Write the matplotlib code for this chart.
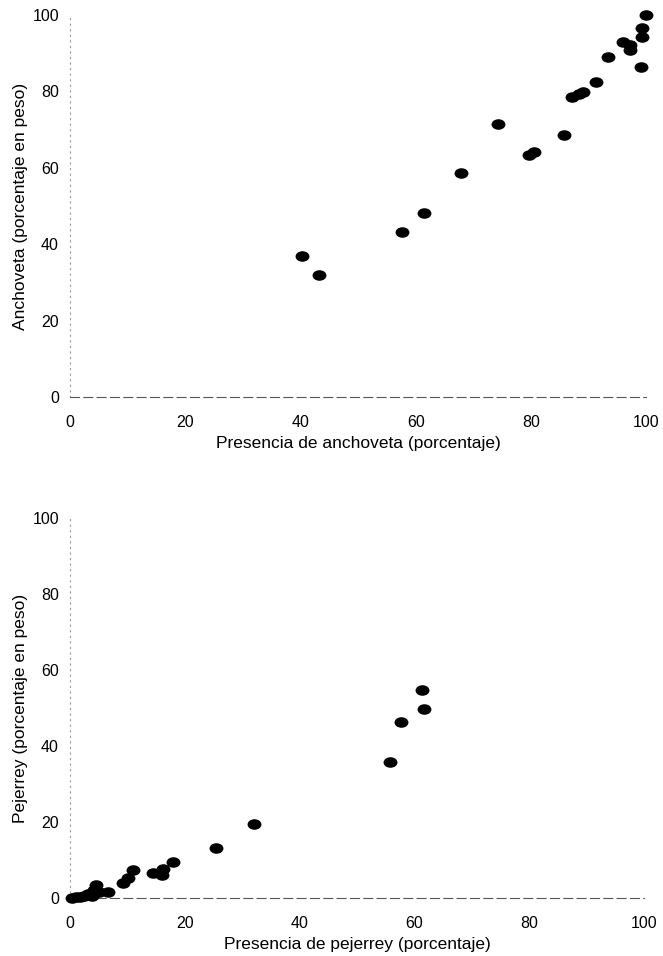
import matplotlib
matplotlib.use('Agg')
import matplotlib.pyplot as plt
import matplotlib.path as mpath
from matplotlib.transforms import Affine2D

plt.rcParams['font.family'] = ['Liberation Sans', 'DejaVu Sans']

# Anchoveta: presence (%) vs weight (%)
anch_x = [40.3, 43.2, 57.7, 61.4, 67.8, 74.3, 79.6, 80.6, 85.8, 87.1, 88.4,
          89.0, 91.3, 93.4, 96.0, 97.2, 97.2, 99.2, 99.2, 99.1, 100.0]
anch_y = [36.9, 31.9, 43.3, 48.3, 58.6, 71.6, 63.4, 64.2, 68.6, 78.5, 79.2,
          79.9, 82.5, 89.1, 93.0, 92.1, 90.8, 94.3, 96.5, 86.5, 100.0]

# Pejerrey: presence (%) vs weight (%)
pej_x = [0.3, 1.0, 1.7, 2.5, 3.2, 3.5, 3.8, 4.1, 4.6, 5.0, 6.7, 9.3, 10.1,
         11.0, 14.5, 16.1, 16.2, 18.0, 25.5, 32.1, 55.7, 57.7, 61.6, 61.3]
pej_y = [0.0, 0.2, 0.3, 0.5, 1.0, 0.8, 0.6, 2.1, 3.4, 1.5, 1.7, 4.0, 5.2,
         7.4, 6.5, 6.1, 7.6, 9.5, 13.1, 19.5, 35.7, 46.4, 49.6, 54.7]

ticks = [0, 20, 40, 60, 80, 100]

# slightly flattened dot, like the scanned markers
dot = mpath.Path.unit_circle().transformed(Affine2D().scale(1.0, 0.76))


def style_axes(ax, xlabel, ylabel):
    ax.set_xlim(0, 100)
    ax.set_ylim(0, 100)
    ax.set_xticks(ticks)
    ax.set_yticks(ticks)
    ax.tick_params(length=0, labelsize=11.5, colors='black')
    ax.tick_params(axis='x', pad=13)
    ax.tick_params(axis='y', pad=8)
    ax.spines['top'].set_visible(False)
    ax.spines['right'].set_visible(False)
    ax.spines['left'].set_linestyle((0, (1, 4)))
    ax.spines['left'].set_color('#999999')
    ax.spines['left'].set_linewidth(0.8)
    ax.spines['bottom'].set_linestyle((0, (8, 4)))
    ax.spines['bottom'].set_color('#555555')
    ax.spines['bottom'].set_linewidth(0.8)
    ax.set_xlabel(xlabel, fontsize=12.5, labelpad=4)
    ax.set_ylabel(ylabel, fontsize=12.5, labelpad=3)


fig = plt.figure(figsize=(6.63, 9.56), dpi=100)

ax_top = fig.add_axes([0.1056, 0.5847, 0.869, 0.3996])
ax_top.scatter(anch_x, anch_y, marker=dot, s=100, color='black',
               linewidths=0, clip_on=False, zorder=3)
style_axes(ax_top, 'Presencia de anchoveta (porcentaje)',
           'Anchoveta (porcentaje en peso)')

ax_bot = fig.add_axes([0.1056, 0.0607, 0.866, 0.3975])
ax_bot.scatter(pej_x, pej_y, marker=dot, s=100, color='black',
               linewidths=0, clip_on=False, zorder=3)
style_axes(ax_bot, 'Presencia de pejerrey (porcentaje)',
           'Pejerrey (porcentaje en peso)')

fig.savefig('out.png', dpi=100, facecolor='white')
